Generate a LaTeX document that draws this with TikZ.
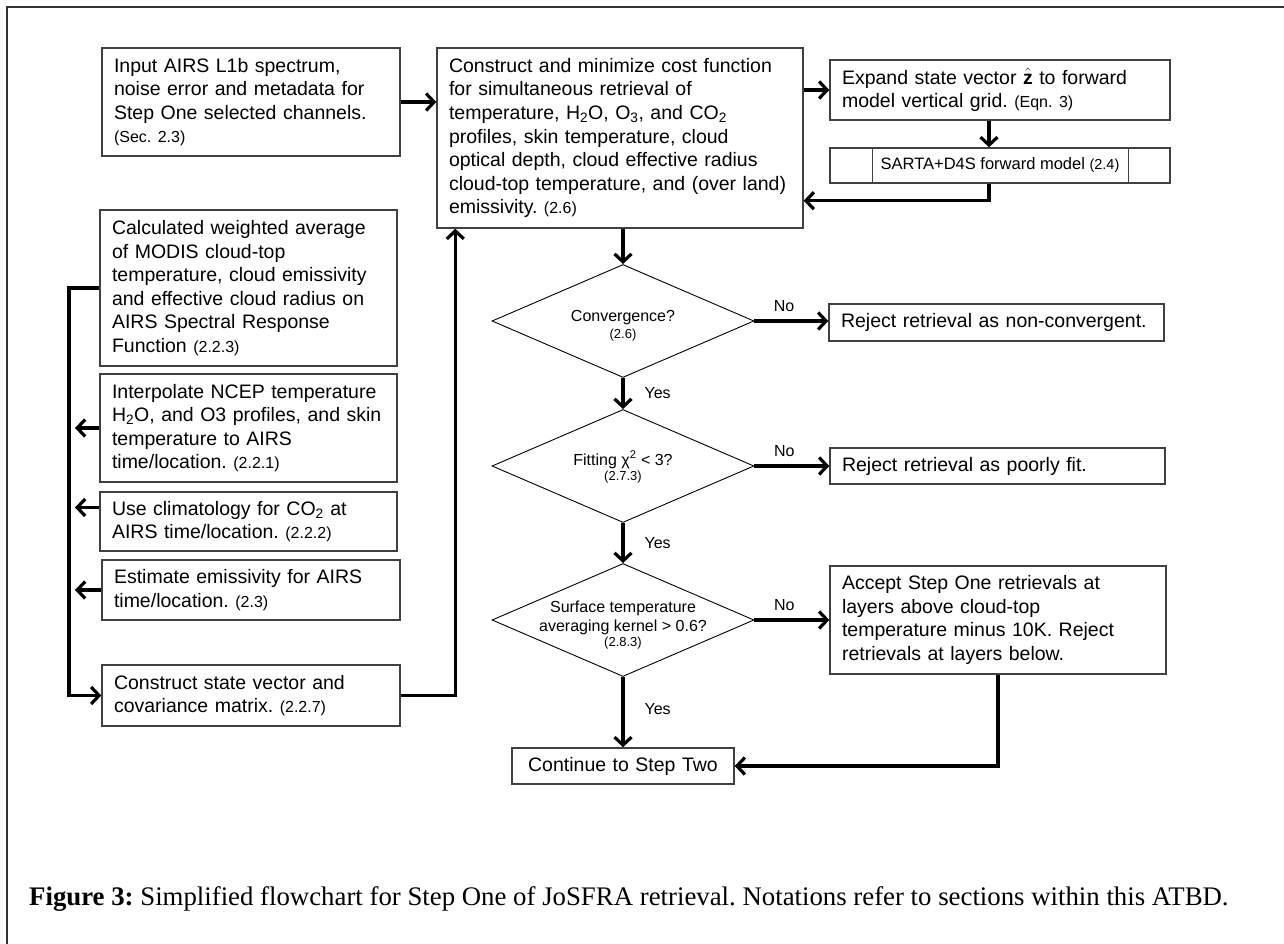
\documentclass[tikz,border=0pt]{standalone}
\usepackage{fontspec}
\setmainfont{Liberation Sans}
\newfontfamily\capfont{Liberation Serif}
\usetikzlibrary{shapes.geometric,arrows.meta}
\frenchspacing
\newcommand\bodysize{\fontsize{19.5}{23.6}\selectfont}
\newcommand\refsize{\fontsize{16}{19}\selectfont}
\newcommand\qsize{\fontsize{16}{17}\selectfont}
\newcommand\qrefsize{\fontsize{13}{15}\selectfont}

\begin{document}
\begin{tikzpicture}[x=1pt, y=-1pt]
        \tikzstyle{box}=[draw=black!75, line width=1.4pt, align=left, inner xsep=12pt, inner ysep=0pt, font=\bodysize]
        \tikzstyle{decision}=[draw, diamond, line width=0.9pt, inner sep=0pt, minimum width=262pt, minimum height=113pt]
        \tikzstyle{qtext}=[align=center, font=\qsize]
        \tikzstyle{arr}=[line width=3.2pt, -{Straight Barb[length=8pt,width=17pt]}]
        \tikzstyle{lbl}=[font=\qsize, inner sep=2pt]

        \useasboundingbox (0,0) rectangle (1284,944);
        \draw[line width=1.2pt, black!80] (7,944) -- (7,7) -- (1284,7);

% Top row: input, cost function and forward model loop
        \node[box, text width=274pt, minimum height=108pt] (input) at (251,102) {Input AIRS L1b spectrum,\\ noise error and metadata for\\ Step One selected channels.\\ {\refsize (Sec. 2.3)}};
        \node[box, text width=342pt, minimum height=180pt] (cost) at (620,138) {Construct and minimize cost function\\ for simultaneous retrieval of\\ temperature, H\textsubscript{2}O, O\textsubscript{3}, and CO\textsubscript{2}\\ profiles, skin temperature, cloud\\ optical depth, cloud effective radius\\ cloud-top temperature, and (over land)\\ emissivity. {\refsize (2.6)}};
        \node[box, text width=316pt, minimum height=60pt] (expand) at (1000,90) {Expand state vector $\hat{\mathbf{z}}$ to forward\\ model vertical grid. {\refsize (Eqn. 3)}};
        \node[box, align=center, font=\fontsize{16.5}{20}\selectfont, minimum width=340pt, minimum height=35pt] (sarta) at (1000,165.5) {SARTA+D4S forward model {\fontsize{14.5}{17}\selectfont (2.4)}};
        \draw[draw=black!75, line width=1.4pt] ([xshift=43pt]sarta.north west) -- ([xshift=43pt]sarta.south west);
        \draw[draw=black!75, line width=1.4pt] ([xshift=-42pt]sarta.north east) -- ([xshift=-42pt]sarta.south east);

% Left column: a priori inputs
        \node[box, text width=273pt, minimum height=156pt] (modis) at (248.5,288) {Calculated weighted average\\ of MODIS cloud-top\\ temperature, cloud emissivity\\ and effective cloud radius on\\ AIRS Spectral Response\\ Function {\refsize (2.2.3)}};
        \node[box, text width=273pt, minimum height=108pt] (ncep) at (248.5,428) {Interpolate NCEP temperature\\ H\textsubscript{2}O, and O3 profiles, and skin\\ temperature to AIRS\\ time/location. {\refsize (2.2.1)}};
        \node[box, text width=273pt, minimum height=59pt] (clim) at (248.5,521.5) {Use climatology for CO\textsubscript{2} at\\ AIRS time/location. {\refsize (2.2.2)}};
        \node[box, text width=274pt, minimum height=60pt] (emis) at (251,590) {Estimate emissivity for AIRS\\ time/location. {\refsize (2.3)}};
        \node[box, text width=274pt, minimum height=61pt] (state) at (251,695.5) {Construct state vector and\\ covariance matrix. {\refsize (2.2.7)}};
        \coordinate (spine) at (69,0);
        \coordinate (tip) at (75,0);

% Quality checks
        \node[decision, label={[qtext, yshift=-5pt]center:Convergence?\\{\qrefsize (2.6)}}] (conv) at (623,321) {};
        \node[decision, label={[qtext, yshift=-1pt]center:Fitting χ\textsuperscript{2} < 3?\\[-2pt]{\qrefsize (2.7.3)}}] (fit) at (623,466) {};
        \node[decision, label={[qtext, yshift=-5pt]center:Surface temperature\\[2pt] averaging kernel > 0.6?\\[-2pt]{\qrefsize (2.8.3)}}] (avk) at (623,620) {};
        \node[box, text width=311pt, minimum height=37pt] (rejconv) at (996.5,322.5) {Reject retrieval as non-convergent.};
        \node[box, text width=311pt, minimum height=36pt] (rejfit) at (997.5,466) {Reject retrieval as poorly fit.};
        \node[box, text width=312pt, minimum height=108pt] (accept) at (998,620) {Accept Step One retrievals at\\ layers above cloud-top\\ temperature minus 10K. Reject\\ retrievals at layers below.};
        \node[box, align=center, text width=198pt, minimum height=36pt] (cont) at (623,766) {Continue to Step Two};

        \node[anchor=base west, inner sep=0pt, font=\capfont\fontsize{26.8}{32}\selectfont] (caption) at (29,905) {\textbf{Figure 3:} Simplified flowchart for Step One of JoSFRA retrieval. Notations refer to sections within this ATBD.};

% Connectors
        \draw[arr] (input.east) -- (input.east -| cost.west);
        \draw[arr] (expand.west -| cost.east) -- (expand.west);
        \draw[arr] ([xshift=-11pt]expand.south) -- ([xshift=-11pt]expand.south |- sarta.north);
        \draw[arr] ([xshift=-11pt]sarta.south) |- ([yshift=28pt]cost.south east);
        \draw[arr] (modis.west) -- (modis.west -| spine) |- (state.west);
        \draw[arr] (ncep.west) -- (ncep.west -| tip);
        \draw[arr] ([yshift=14pt]clim.west) -- ([yshift=14pt]clim.west -| tip);
        \draw[arr] (emis.west) -- (emis.west -| tip);
        \draw[arr] (state.east) -| ([xshift=19pt]cost.south west);
        \draw[arr] (cost.south -| conv.north) -- (conv.north);
        \draw[arr] (conv.east) -- node[lbl, above=6pt, pos=0.4] {No} (conv.east -| rejconv.west);
        \draw[arr] (conv.south) -- node[lbl, right=18pt] {Yes} (fit.north);
        \draw[arr] (fit.east) -- node[lbl, above=6pt, pos=0.4] {No} (fit.east -| rejfit.west);
        \draw[arr] (fit.south) -- node[lbl, right=18pt] {Yes} (avk.north);
        \draw[arr] (avk.east) -- node[lbl, above=6pt, pos=0.4] {No} (avk.east -| accept.west);
        \draw[arr] (avk.south) -- node[lbl, right=18pt, pos=0.45] {Yes} (cont.north);
        \draw[arr] (accept.south) |- (cont.east);

\end{tikzpicture}
\end{document}
